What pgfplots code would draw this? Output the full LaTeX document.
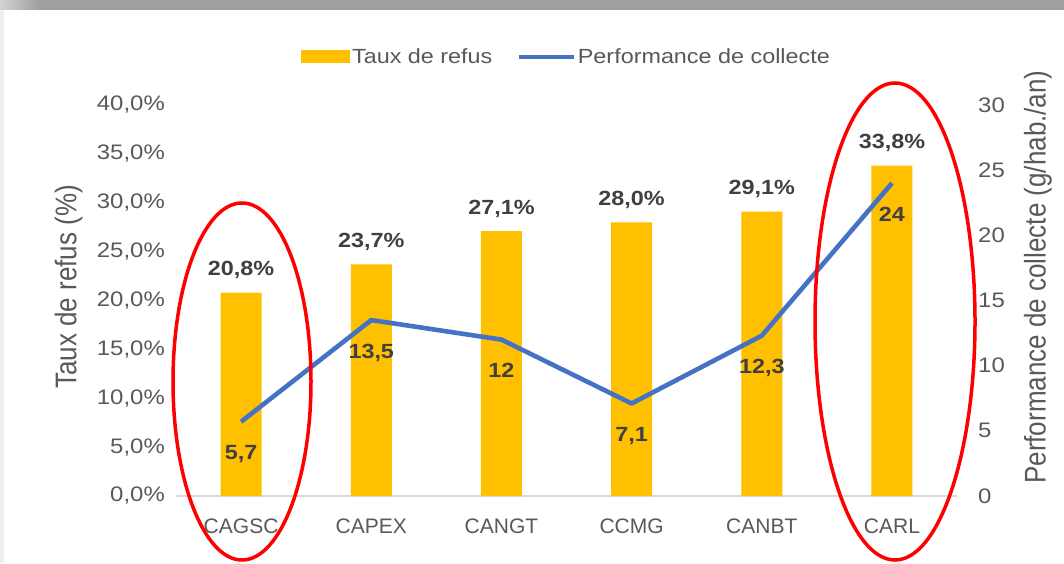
\documentclass[border=0pt]{standalone}
\usepackage{fontspec}
\setmainfont{Liberation Sans}
\newfontfamily\sw{Liberation Sans}[FakeStretch=1.14]
\usepackage{pgfplots}
\pgfplotsset{compat=1.18}
\usepackage{pgfplotstable}
\definecolor{barc}{HTML}{FFC000}
\definecolor{linec}{HTML}{4472C4}
\definecolor{txt}{HTML}{595959}
\definecolor{lab}{HTML}{404040}
\definecolor{axc}{HTML}{D9D9D9}

\pgfplotstableread{
x refus perf
0 20.8 5.7
1 23.7 13.5
2 27.1 12
3 28.0 7.1
4 29.1 12.3
5 33.8 24
}\data

\begin{document}
\begin{tikzpicture}[x=1pt,y=1pt]
\path[use as bounding box] (0,0) rectangle (1064,563);
\fill[white] (0,0) rectangle (1064,563);
\shade[left color=gray!35, right color=gray!75] (0,553) rectangle (40,563);
\fill[gray!75] (40,553) rectangle (1064,563);
\fill[gray!12] (0,0) rectangle (4,553);

\begin{axis}[
  at={(176pt,67pt)}, anchor=south west, scale only axis,
  width=781pt, height=391pt,
  xmin=-0.5, xmax=5.5, ymin=0, ymax=40,
  axis x line*=bottom, axis y line*=left,
  x axis line style={axc, line width=1.5pt, -},
  y axis line style={draw=none},
  xtick={0,...,5}, xticklabels={CAGSC,CAPEX,CANGT,CCMG,CANBT,CARL},
  ytick={0,5,...,40},
  yticklabels={{0,0\%},{5,0\%},{10,0\%},{15,0\%},{20,0\%},{25,0\%},{30,0\%},{35,0\%},{40,0\%}},
  major tick length=0pt,
  tick label style={txt, inner sep=0pt},
  xticklabel style={anchor=base, yshift=-37pt, font=\fontsize{21}{25}\selectfont},
  yticklabel style={anchor=east, xshift=-11pt, font=\sw\fontsize{21}{25}\selectfont},
  ylabel={\scalebox{1}[1.15]{Taux de refus (\%)}},
  ylabel style={at={(axis description cs:-0.1376,0.5345)}, anchor=center, rotate=0, txt, font=\fontsize{26}{30}\selectfont, inner sep=0pt},
  legend style={at={(0.5,1.123)}, anchor=center, draw=none, fill=none, legend columns=2,
    font=\sw\fontsize{20.5}{24}\selectfont, text=txt,
    /tikz/every even column/.append style={column sep=22pt}},
  clip=false,
]
\addplot[ybar, bar width=41pt, fill=barc, draw=none,
  legend image code/.code={\fill[barc] (0pt,-6.5pt) rectangle (49pt,6.5pt);},
  nodes near coords={\pgfmathprintnumber[use comma,fixed,fixed zerofill,precision=1]{\pgfplotspointmeta}\%},
  every node near coord/.append style={anchor=base, yshift=17pt, inner sep=0pt, lab, font=\sw\bfseries\fontsize{20.5}{24}\selectfont},
  /pgf/number format/assume math mode=true]
  table[x=x, y=refus]{\data};
\addlegendentry{Taux de refus}
\addlegendimage{legend image code/.code={\draw[linec, line width=4.5pt] (0pt,0pt) -- (55pt,0pt);}}
\addlegendentry{Performance de collecte}
\end{axis}

\begin{axis}[
  at={(176pt,67pt)}, anchor=south west, scale only axis,
  width=781pt, height=391pt,
  xmin=-0.5, xmax=5.5, ymin=0, ymax=30,
  axis x line=none, axis y line*=right,
  y axis line style={draw=none},
  ytick={0,5,...,30}, yticklabels={0,5,10,15,20,25,30},
  major tick length=0pt,
  yticklabel style={anchor=west, xshift=21pt, inner sep=0pt, txt, font=\sw\fontsize{21}{25}\selectfont},
  ylabel={\scalebox{1}[1.15]{Performance de collecte (g/hab./an)}},
  ylabel style={at={(axis description cs:1.1037,0.560)}, anchor=center, rotate=0, txt, font=\fontsize{26}{30}\selectfont, inner sep=0pt},
  clip=false,
]
\addplot[linec, line width=4.6pt, line join=round, mark=none,
  nodes near coords={\pgfmathprintnumber[use comma,fixed,precision=1]{\pgfplotspointmeta}},
  every node near coord/.append style={anchor=base, yshift=-38pt, inner sep=0pt, lab, font=\sw\bfseries\fontsize{20.5}{24}\selectfont},
  /pgf/number format/assume math mode=true]
  table[x=x, y=perf]{\data};
\end{axis}

\begin{scope}
\clip (0,0) rectangle (1064,563);
\draw[red, line width=3.5pt] (242,181.5) ellipse [x radius=69, y radius=178.5];
\draw[red, line width=3.5pt] (895,241.5) ellipse [x radius=80, y radius=238.5];
\end{scope}
\end{tikzpicture}
\end{document}
